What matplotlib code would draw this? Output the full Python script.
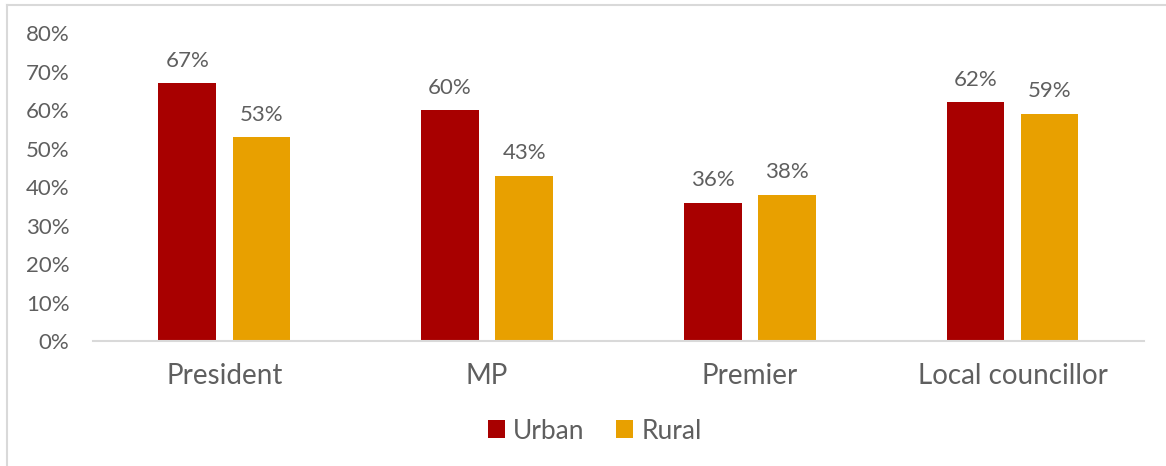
import numpy as np
import matplotlib.pyplot as plt
from matplotlib.lines import Line2D
from matplotlib import ticker

categories = ['President', 'MP', 'Premier', 'Local councillor']
urban = [0.67, 0.60, 0.36, 0.62]
rural = [0.53, 0.43, 0.38, 0.59]
series_names = ['Urban', 'Rural']

plt.rcParams['font.family'] = ['Lato', 'DejaVu Sans']
text_color = '#5f5f5f'
red = '#A80000'
orange = '#E8A000'

fig = plt.figure(figsize=(11.66, 4.66), dpi=100)
ax = fig.add_axes([0.0798, 0.268, 0.9012, 0.661])

x = np.arange(len(categories))
width = 0.22
offset = 0.141

b1 = ax.bar(x - offset, urban, width, color=red, label=series_names[0])
b2 = ax.bar(x + offset, rural, width, color=orange, label=series_names[1])

for bars in (b1, b2):
    for rect in bars:
        v = rect.get_height()
        ax.annotate(f'{v * 100:.0f}%', (rect.get_x() + rect.get_width() / 2, v),
                    xytext=(0, 9), textcoords='offset points',
                    ha='center', va='bottom', fontsize=16, color=text_color)

ax.set_xlim(-0.5, len(categories) - 0.5)
ax.set_ylim(0, 0.8)
ax.set_yticks(np.arange(0, 0.81, 0.1))
ax.yaxis.set_major_formatter(ticker.PercentFormatter(1.0, decimals=0))
ax.set_xticks(x)
ax.set_xticklabels(categories)

for s in ['top', 'right', 'left']:
    ax.spines[s].set_visible(False)
ax.spines['bottom'].set_color('#d9d9d9')
ax.spines['bottom'].set_linewidth(1.5)

ax.tick_params(axis='y', length=0, pad=17, labelsize=16, labelcolor=text_color)
ax.tick_params(axis='x', length=0, pad=16, labelsize=20, labelcolor=text_color)

fig.legend(loc='center', bbox_to_anchor=(0.51, 0.075), ncol=2, frameon=False,
           fontsize=19, labelcolor=text_color, handlelength=0.65, handleheight=0.65,
           handletextpad=0.3, columnspacing=1.2)

# outer chart frame
fig.add_artist(Line2D([0.0064, 1.0], [0.990, 0.990], color='#d9d9d9', lw=1.5))
fig.add_artist(Line2D([0.0064, 0.0064], [0.0, 0.990], color='#d9d9d9', lw=1.5))

fig.savefig('out.png', dpi=100)
